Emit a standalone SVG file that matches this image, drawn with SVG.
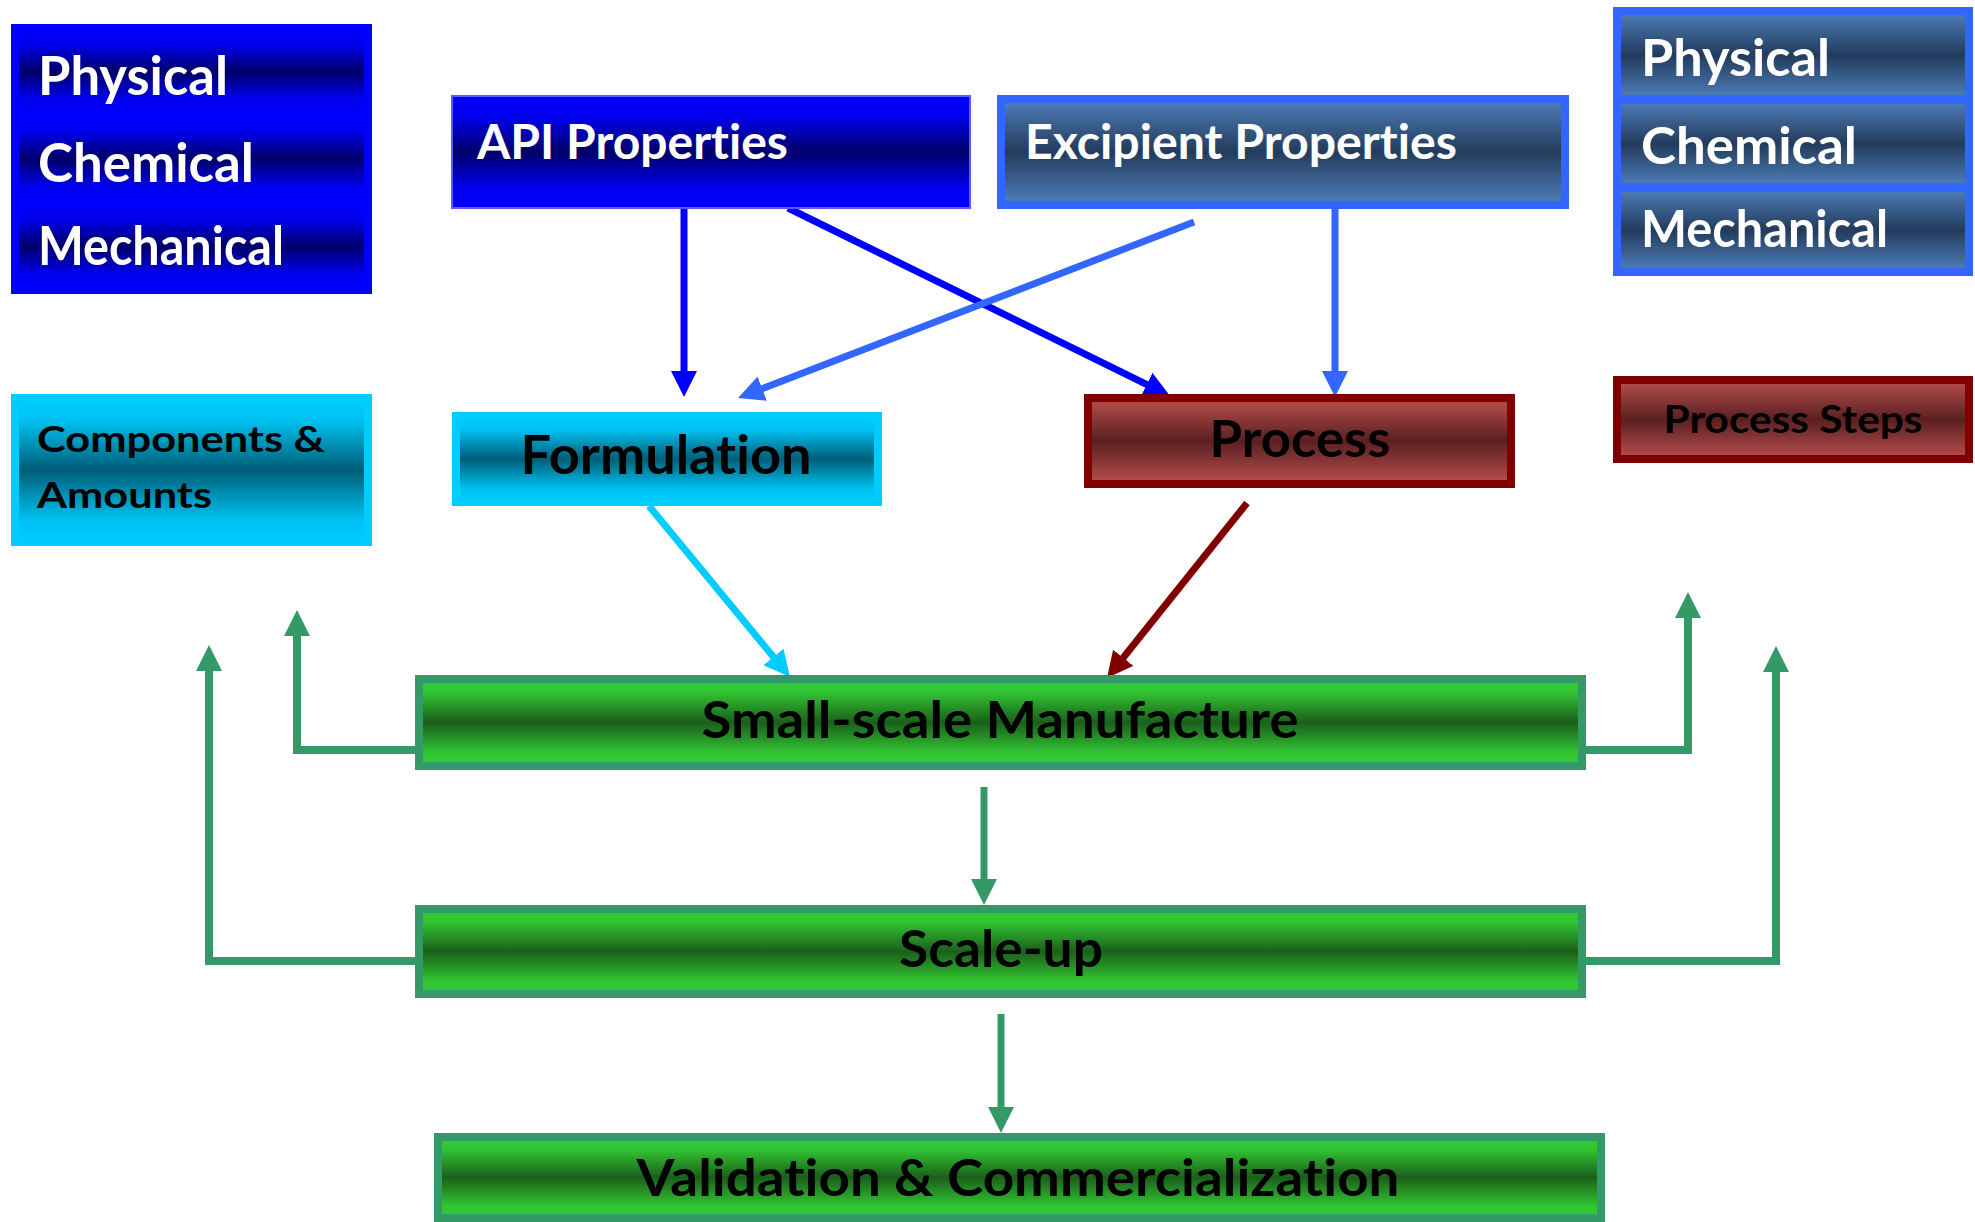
<svg xmlns="http://www.w3.org/2000/svg" width="1975" height="1222" viewBox="0 0 1975 1222">
  <style>
    .lbl { font-family: Lato, "Open Sans", "Liberation Sans", sans-serif; font-weight: 700; font-variant-ligatures: none; font-feature-settings: "liga" 0, "clig" 0; }
    .w { fill: #FFFFFF; }
    .k { fill: #000000; }
    .blue { fill: url(#gBlue); stroke: #0000FF; stroke-width: 8; }
    .api { fill: url(#gBlue); stroke: #5A5AFF; stroke-width: 2; }
    .steel { fill: url(#gSteel); stroke: #3366FF; stroke-width: 8; }
    .cyan { fill: url(#gCyan); stroke: #00CCFF; stroke-width: 8; }
    .red { fill: url(#gRed); stroke: #800000; stroke-width: 8; }
    .green { fill: url(#gGreen); stroke: #339966; stroke-width: 8; }
    .ln { fill: none; stroke-linecap: butt; stroke-linejoin: miter; }
  </style>
  <defs>
    <linearGradient id="gBlue" x1="0" y1="0" x2="0" y2="1">
      <stop offset="0" stop-color="#0000FF"/>
      <stop offset="0.18" stop-color="#0000F0"/>
      <stop offset="0.5" stop-color="#000068"/>
      <stop offset="0.82" stop-color="#0000F0"/>
      <stop offset="1" stop-color="#0000FF"/>
    </linearGradient>
    <linearGradient id="gSteel" x1="0" y1="0" x2="0" y2="1">
      <stop offset="0" stop-color="#4F80BC"/>
      <stop offset="0.5" stop-color="#233B5C"/>
      <stop offset="1" stop-color="#4F80BC"/>
    </linearGradient>
    <linearGradient id="gCyan" x1="0" y1="0" x2="0" y2="1">
      <stop offset="0" stop-color="#00CCFF"/>
      <stop offset="0.15" stop-color="#00C2F2"/>
      <stop offset="0.5" stop-color="#005E78"/>
      <stop offset="0.85" stop-color="#00C2F2"/>
      <stop offset="1" stop-color="#00CCFF"/>
    </linearGradient>
    <linearGradient id="gRed" x1="0" y1="0" x2="0" y2="1">
      <stop offset="0" stop-color="#BA4F4F"/>
      <stop offset="0.5" stop-color="#5A2020"/>
      <stop offset="1" stop-color="#BA4F4F"/>
    </linearGradient>
    <linearGradient id="gGreen" x1="0" y1="0" x2="0" y2="1">
      <stop offset="0" stop-color="#33CC33"/>
      <stop offset="0.15" stop-color="#32C432"/>
      <stop offset="0.5" stop-color="#1B5F1B"/>
      <stop offset="0.85" stop-color="#32C432"/>
      <stop offset="1" stop-color="#33CC33"/>
    </linearGradient>
    <marker id="aBlue" markerUnits="userSpaceOnUse" markerWidth="26" markerHeight="26" viewBox="0 -13 26 26" refX="2" refY="0" orient="auto">
      <path d="M0,-13 L26,0 L0,13 z" fill="#0000FF"/>
    </marker>
    <marker id="aSteel" markerUnits="userSpaceOnUse" markerWidth="26" markerHeight="26" viewBox="0 -13 26 26" refX="2" refY="0" orient="auto">
      <path d="M0,-13 L26,0 L0,13 z" fill="#3366FF"/>
    </marker>
    <marker id="aCyan" markerUnits="userSpaceOnUse" markerWidth="26" markerHeight="26" viewBox="0 -13 26 26" refX="2" refY="0" orient="auto">
      <path d="M0,-13 L26,0 L0,13 z" fill="#00CCFF"/>
    </marker>
    <marker id="aRed" markerUnits="userSpaceOnUse" markerWidth="26" markerHeight="26" viewBox="0 -13 26 26" refX="2" refY="0" orient="auto">
      <path d="M0,-13 L26,0 L0,13 z" fill="#800000"/>
    </marker>
    <marker id="aGreen" markerUnits="userSpaceOnUse" markerWidth="26" markerHeight="26" viewBox="0 -13 26 26" refX="2" refY="0" orient="auto">
      <path d="M0,-13 L26,0 L0,13 z" fill="#339966"/>
    </marker>
  </defs>

  <rect x="0" y="0" width="1975" height="1222" fill="#FFFFFF"/>

  <!-- connectors -->
  <g id="connectors" class="ln">
    <line x1="684" y1="208" x2="684" y2="373" stroke="#0000FF" stroke-width="7" marker-end="url(#aBlue)"/>
    <line x1="788" y1="208" x2="1148.5" y2="385.4" stroke="#0000FF" stroke-width="7" marker-end="url(#aBlue)"/>
    <line x1="1194" y1="222" x2="760.4" y2="389.4" stroke="#3366FF" stroke-width="7" marker-end="url(#aSteel)"/>
    <line x1="1335" y1="209" x2="1335" y2="373" stroke="#3366FF" stroke-width="7" marker-end="url(#aSteel)"/>
    <line x1="649" y1="506" x2="774.7" y2="658.5" stroke="#00CCFF" stroke-width="7" marker-end="url(#aCyan)"/>
    <line x1="1247" y1="503" x2="1122" y2="659.3" stroke="#800000" stroke-width="7" marker-end="url(#aRed)"/>
    <line x1="984" y1="787" x2="984" y2="881" stroke="#339966" stroke-width="7" marker-end="url(#aGreen)"/>
    <line x1="1001" y1="1014" x2="1001" y2="1109" stroke="#339966" stroke-width="7" marker-end="url(#aGreen)"/>
    <polyline points="415,750 297,750 297,634" stroke="#339966" stroke-width="8" marker-end="url(#aGreen)"/>
    <polyline points="415,961 209,961 209,669" stroke="#339966" stroke-width="8" marker-end="url(#aGreen)"/>
    <polyline points="1586,750 1688,750 1688,616" stroke="#339966" stroke-width="8" marker-end="url(#aGreen)"/>
    <polyline points="1586,961 1776,961 1776,670" stroke="#339966" stroke-width="8" marker-end="url(#aGreen)"/>
  </g>

  <!-- API property categories -->
  <g id="api-attributes">
    <rect class="blue" x="15" y="28" width="353" height="87"/>
    <rect class="blue" x="15" y="115" width="353" height="88"/>
    <rect class="blue" x="15" y="203" width="353" height="87"/>
    <text class="lbl w" x="38" y="95" font-size="54" textLength="190" lengthAdjust="spacingAndGlyphs">Physical</text>
    <text class="lbl w" x="38" y="182" font-size="54" textLength="216" lengthAdjust="spacingAndGlyphs">Chemical</text>
    <text class="lbl w" x="38" y="265" font-size="54" textLength="246" lengthAdjust="spacingAndGlyphs">Mechanical</text>
  </g>

  <g id="api-properties">
    <rect class="api" x="452" y="96" width="518" height="112"/>
    <text class="lbl w" x="477" y="159" font-size="47" textLength="311" lengthAdjust="spacingAndGlyphs">API Properties</text>
  </g>

  <g id="excipient-properties">
    <rect class="steel" x="1001" y="99" width="564" height="106"/>
    <text class="lbl w" x="1025" y="159" font-size="47" textLength="432" lengthAdjust="spacingAndGlyphs">Excipient Properties</text>
  </g>

  <!-- excipient property categories -->
  <g id="excipient-attributes">
    <rect class="steel" x="1617" y="11" width="352" height="88"/>
    <rect class="steel" x="1617" y="100" width="352" height="87"/>
    <rect class="steel" x="1617" y="188" width="352" height="84"/>
    <text class="lbl w" x="1641" y="76" font-size="51" textLength="189" lengthAdjust="spacingAndGlyphs">Physical</text>
    <text class="lbl w" x="1641" y="164" font-size="51" textLength="216" lengthAdjust="spacingAndGlyphs">Chemical</text>
    <text class="lbl w" x="1641" y="247" font-size="51" textLength="247" lengthAdjust="spacingAndGlyphs">Mechanical</text>
  </g>

  <g id="components-amounts">
    <rect class="cyan" x="15" y="398" width="353" height="144"/>
    <text class="lbl k" x="37" y="452" font-size="36" textLength="288" lengthAdjust="spacingAndGlyphs">Components &amp;</text>
    <text class="lbl k" x="37" y="508" font-size="36" textLength="175" lengthAdjust="spacingAndGlyphs">Amounts</text>
  </g>

  <g id="formulation">
    <rect class="cyan" x="456" y="416" width="422" height="86"/>
    <text class="lbl k" x="666" y="474" font-size="53" text-anchor="middle" textLength="291" lengthAdjust="spacingAndGlyphs">Formulation</text>
  </g>

  <g id="process">
    <rect class="red" x="1088" y="398" width="423" height="86"/>
    <text class="lbl k" x="1300" y="457" font-size="51" text-anchor="middle" textLength="181" lengthAdjust="spacingAndGlyphs">Process</text>
  </g>

  <g id="process-steps">
    <rect class="red" x="1617" y="380" width="352" height="79"/>
    <text class="lbl k" x="1793" y="433" font-size="39" text-anchor="middle" textLength="259" lengthAdjust="spacingAndGlyphs">Process Steps</text>
  </g>

  <g id="small-scale-manufacture">
    <rect class="green" x="419" y="679" width="1163" height="87"/>
    <text class="lbl k" x="1000" y="738" font-size="51" text-anchor="middle" textLength="597" lengthAdjust="spacingAndGlyphs">Small-scale Manufacture</text>
  </g>

  <g id="scale-up">
    <rect class="green" x="419" y="909" width="1163" height="85"/>
    <text class="lbl k" x="1001" y="967" font-size="51" text-anchor="middle" textLength="204" lengthAdjust="spacingAndGlyphs">Scale-up</text>
  </g>

  <g id="validation-commercialization">
    <rect class="green" x="438" y="1137" width="1163" height="81"/>
    <text class="lbl k" x="1018" y="1196" font-size="51" text-anchor="middle" textLength="763" lengthAdjust="spacingAndGlyphs">Validation &amp; Commercialization</text>
  </g>
</svg>
